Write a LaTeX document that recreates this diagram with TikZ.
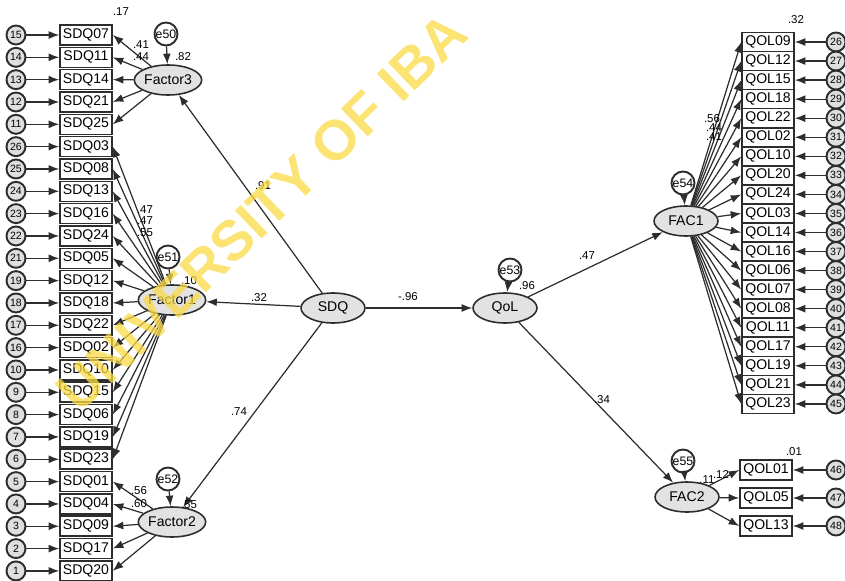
\documentclass[tikz,border=0pt]{standalone}
\usepackage{fontspec}
\setmainfont{Liberation Sans}
\usetikzlibrary{shapes.geometric,arrows.meta}

\definecolor{lineink}{RGB}{45,45,45}
\definecolor{wmyellow}{RGB}{250,218,70}
\definecolor{latfill}{RGB}{226,226,226}

\tikzset{
  item/.style={draw=lineink, line width=0.9pt, fill=white, minimum width=1.04cm,
    minimum height=0.4cm, inner sep=0pt, font=\fontsize{8}{9}\selectfont},
  latent/.style={ellipse, draw=lineink, line width=0.9pt, fill=latfill,
    minimum width=1.28cm, minimum height=0.6cm, inner sep=0pt, font=\fontsize{8}{9}\selectfont},
  err/.style={circle, draw=lineink, line width=1.1pt, fill=gray!25, minimum size=0.38cm,
    inner sep=0pt, font=\fontsize{6}{6}\selectfont},
  link/.style={draw=lineink, line width=0.7pt, -{Latex[length=6pt,width=4.5pt]}},
  coef/.style={font=\fontsize{6.5}{7}\selectfont, inner sep=1pt},
}

\begin{document}
\begin{tikzpicture}[x=0.02cm, y=-0.02cm]
        \useasboundingbox (0,0) rectangle (845,581);
        % ==== SDQ ITEMS ====
        \foreach \i/\lab/\e in {0/SDQ07/15,1/SDQ11/14,2/SDQ14/13,3/SDQ21/12,4/SDQ25/11,
            5/SDQ03/26,6/SDQ08/25,7/SDQ13/24,8/SDQ16/23,9/SDQ24/22,10/SDQ05/21,
            11/SDQ12/19,12/SDQ18/18,13/SDQ22/17,14/SDQ02/16,15/SDQ10/10,16/SDQ15/9,
            17/SDQ06/8,18/SDQ19/7,19/SDQ23/6,
            20/SDQ01/5,21/SDQ04/4,22/SDQ09/3,23/SDQ17/2,24/SDQ20/1} {
            \node[item] (s\i) at (86,{35+22.33*\i}) {\lab};
            \node[err] (es\i) at (16,{35+22.33*\i}) {\e};
            \draw[link] (es\i) -- (s\i);
        }
        % ==== SDQ FACTORS ====
        \node[latent] (Factor3) at (168,80) {Factor3};
        \node[latent] (Factor1) at (172,300) {Factor1};
        \node[latent] (Factor2) at (172,522) {Factor2};
        \node[err, fill=white, minimum size=0.46cm, font=\fontsize{7}{7}\selectfont] (e50) at (166,34) {e50};
        \node[err, fill=white, minimum size=0.46cm, font=\fontsize{7}{7}\selectfont] (e51) at (168,257) {e51};
        \node[err, fill=white, minimum size=0.46cm, font=\fontsize{7}{7}\selectfont] (e52) at (168,479) {e52};
        \draw[link] (e50) -- (Factor3);
        \draw[link] (e51) -- (Factor1);
        \draw[link] (e52) -- (Factor2);
        \foreach \i in {0,...,4} \draw[link] (Factor3) -- (s\i.east);
        \foreach \i in {5,...,19} \draw[link] (Factor1) -- (s\i.east);
        \foreach \i in {20,...,24} \draw[link] (Factor2) -- (s\i.east);

        % ==== SDQ AND QoL ====
        \node[latent] (SDQ) at (333,308) {SDQ};
        \node[latent] (QoL) at (505,308) {QoL};
        \node[err, fill=white, minimum size=0.46cm, font=\fontsize{7}{7}\selectfont] (e53) at (510,270) {e53};
        \draw[link] (e53) -- (QoL);
        \draw[link] (SDQ) -- (Factor3);
        \draw[link] (SDQ) -- (Factor1);
        \draw[link] (SDQ) -- (Factor2);
        \draw[link] (SDQ) -- (QoL);

        % ==== QOL FACTORS ====
        \node[latent] (FAC1) at (686,221) {FAC1};
        \node[latent] (FAC2) at (687,497) {FAC2};
        \node[err, fill=white, minimum size=0.46cm, font=\fontsize{7}{7}\selectfont] (e54) at (683,183) {e54};
        \node[err, fill=white, minimum size=0.46cm, font=\fontsize{7}{7}\selectfont] (e55) at (683,461) {e55};
        \draw[link] (e54) -- (FAC1);
        \draw[link] (e55) -- (FAC2);
        \draw[link] (QoL) -- (FAC1);
        \draw[link] (QoL) -- (FAC2);

        % ==== QOL ITEMS ====
        \foreach \i/\lab/\e in {0/QOL09/26,1/QOL12/27,2/QOL15/28,3/QOL18/29,4/QOL22/30,
            5/QOL02/31,6/QOL10/32,7/QOL20/33,8/QOL24/34,9/QOL03/35,10/QOL14/36,
            11/QOL16/37,12/QOL06/38,13/QOL07/39,14/QOL08/40,15/QOL11/41,16/QOL17/42,
            17/QOL19/43,18/QOL21/44,19/QOL23/45} {
            \node[item, minimum height=0.38cm] (q\i) at (768,{42+19.05*\i}) {\lab};
            \node[err] (eq\i) at (836,{42+19.05*\i}) {\e};
            \draw[link] (eq\i) -- (q\i);
            \draw[link] (FAC1) -- (q\i.west);
        }
        \foreach \i/\lab/\e/\y in {1/QOL01/46/470,2/QOL05/47/498,3/QOL13/48/526} {
            \node[item] (r\i) at (766,\y) {\lab};
            \node[err] (er\i) at (836,\y) {\e};
            \draw[link] (er\i) -- (r\i);
            \draw[link] (FAC2) -- (r\i.west);
        }

        % ==== ESTIMATES ====
        \node[coef] at (121,12) {.17};
        \node[coef] at (141,45) {.41};
        \node[coef] at (141,57) {.44};
        \node[coef] at (183,57) {.82};
        \node[coef] at (145,210) {.47};
        \node[coef] at (145,221) {.47};
        \node[coef] at (145,233) {.55};
        \node[coef] at (189,281) {.10};
        \node[coef] at (139,491) {.56};
        \node[coef] at (139,504) {.60};
        \node[coef] at (189,505) {.55};
        \node[coef] at (263,186) {.91};
        \node[coef] at (259,298) {.32};
        \node[coef] at (239,412) {.74};
        \node[coef] at (408,297) {-.96};
        \node[coef] at (527,286) {.96};
        \node[coef] at (587,256) {.47};
        \node[coef] at (602,400) {.34};
        \node[coef] at (796,20) {.32};
        \node[coef] at (712,119) {.56};
        \node[coef] at (714,128) {.44};
        \node[coef] at (714,137) {.41};
        \node[coef] at (707,480) {.11};
        \node[coef] at (721,475) {.12};
        \node[coef] at (794,452) {.01};

        % ==== WATERMARK ====
        \node[rotate=44, text=wmyellow, opacity=0.75, font=\bfseries\fontsize{32}{32}\selectfont]
            (mark) at (262,212) {UNIVERSITY OF IBA};
\end{tikzpicture}
\end{document}
